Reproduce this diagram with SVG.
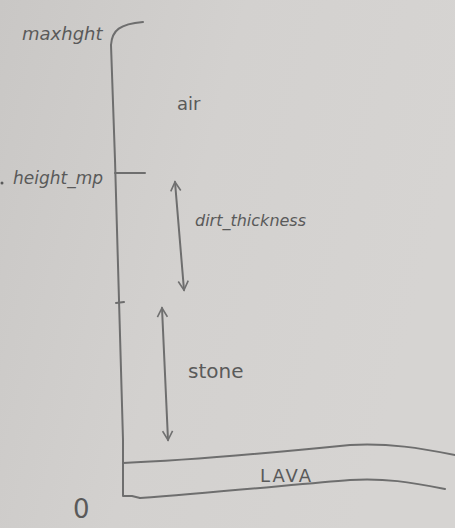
<svg xmlns="http://www.w3.org/2000/svg" width="455" height="528" viewBox="0 0 455 528">
<defs>
<linearGradient id="bg" x1="0" y1="0" x2="1" y2="0.3">
<stop offset="0" stop-color="#c9c7c5"/>
<stop offset="0.5" stop-color="#d3d1cf"/>
<stop offset="1" stop-color="#d6d4d2"/>
</linearGradient>
<marker id="head" viewBox="0 0 12 12" refX="10" refY="6" markerWidth="12" markerHeight="12" markerUnits="userSpaceOnUse" orient="auto-start-reverse">
<path d="M1,1 L10,6 L1,11" fill="none" stroke="#707070" stroke-width="1.6"/>
</marker>
<style>
.ln{fill:none;stroke:#6e6e6e;stroke-width:2;stroke-linecap:round;stroke-linejoin:round}
.hw{font-family:"DejaVu Sans","Liberation Sans",sans-serif;fill:#5a5a5a;font-style:italic}
.up{font-family:"DejaVu Sans","Liberation Sans",sans-serif;fill:#5a5a5a;font-style:normal}
</style>
</defs>
<rect width="455" height="528" fill="url(#bg)"/>
<g id="connectors">
<path class="ln" d="M143,22 C120,24 112,30 111,45 L115,160 L119,300 L123,440 L123,496 L132,496 L140,498"/>
<path class="ln" d="M115,173 L145,173"/>
<path class="ln" d="M116,303 L124,302"/>
<path class="ln" d="M175,182 L184,290" marker-start="url(#head)" marker-end="url(#head)"/>
<path class="ln" d="M162,308 L168,440" marker-start="url(#head)" marker-end="url(#head)"/>
</g>
<g id="lava">
<path class="ln" d="M123,463 C200,460 280,452 350,445 C390,443 420,448 455,455"/>
<path class="ln" d="M140,498 C220,492 300,484 350,480 C385,478 410,482 445,489"/>
<text class="up" x="260" y="482" font-size="18" letter-spacing="2">LAVA</text>
</g>
<g id="maxheight"><text class="hw" x="22" y="40" font-size="18">maxhght</text></g>
<g id="heightmap"><circle cx="2" cy="183" r="1.5" fill="#5a5a5a"/><text class="hw" x="13" y="184" font-size="17">height_mp</text></g>
<g id="air"><text class="up" x="177" y="110" font-size="18">air</text></g>
<g id="dirt"><text class="hw" x="195" y="226" font-size="16">dirt_thickness</text></g>
<g id="stone"><text class="up" x="188" y="378" font-size="20">stone</text></g>
<g id="zero"><text class="up" x="73" y="518" font-size="26">0</text></g>
</svg>
